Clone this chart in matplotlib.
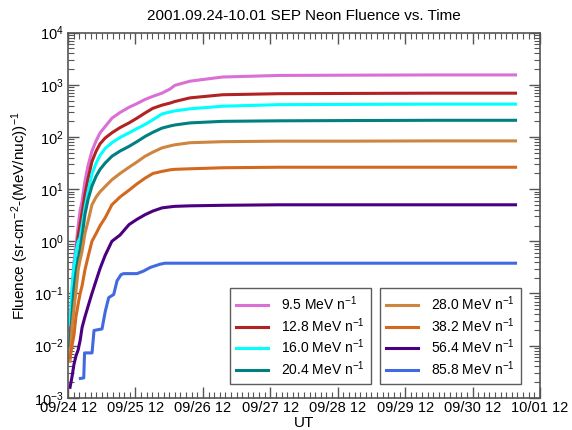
"""2001.09.24-10.01 SEP Neon fluence vs. time."""
import matplotlib
import numpy as np

matplotlib.use('Agg')
import matplotlib.pyplot as plt
from matplotlib.ticker import FixedLocator, LogLocator, NullFormatter

plt.rcParams['font.family'] = ['Liberation Sans', 'DejaVu Sans']
plt.rcParams['mathtext.fontset'] = 'custom'
plt.rcParams['mathtext.rm'] = 'Liberation Sans'
plt.rcParams['mathtext.it'] = 'Liberation Sans:italic'

# hours since 09/24 12:00 UT
hours = [0.7, 1.4, 2.1, 2.8, 3.6, 4.3, 5.0, 6.0, 7.1, 8.5, 10.0, 11.4, 13.2,
         15.6, 18.5, 21.7, 24.5, 27.4, 30.2, 33.4, 36.3, 38.0, 43.4, 55.0,
         75.0, 100.0, 130.0, 159.3]

# log10 fluence per energy channel, on the common time grid
log_95 = [-1.7, -1.0, -0.4, -0.1, 0.3, 0.6, 0.77, 1.15, 1.45, 1.73, 1.93, 2.08, 2.2,
          2.36, 2.47, 2.57, 2.64, 2.72, 2.78, 2.84, 2.92, 2.99, 3.07, 3.15,
          3.18, 3.185, 3.19, 3.19]
log_128 = [-2.0, -1.3, -0.7, -0.2, 0.1, 0.33, 0.55, 0.9, 1.2, 1.53, 1.73, 1.87, 1.98,
           2.08, 2.18, 2.27, 2.36, 2.46, 2.55, 2.61, 2.65, 2.68, 2.75, 2.81,
           2.83, 2.835, 2.84, 2.84]
log_160 = [-1.6, -0.9, -0.5, -0.2, 0.0, 0.07, 0.3, 0.64, 0.95, 1.29, 1.5, 1.65, 1.78,
           1.89, 1.99, 2.08, 2.16, 2.24, 2.33, 2.44, 2.48, 2.5, 2.54, 2.59,
           2.62, 2.625, 2.63, 2.63]
log_204 = [-2.0, -1.4, -0.9, -0.6, -0.35, -0.13, 0.1, 0.51, 0.8, 1.06, 1.25, 1.38, 1.5,
           1.63, 1.73, 1.82, 1.91, 2.01, 2.09, 2.17, 2.21, 2.23, 2.27, 2.30,
           2.31, 2.315, 2.32, 2.32]
log_280 = [-2.3, -1.66, -1.3, -0.96, -0.55, -0.35, -0.19, 0.15, 0.38, 0.70, 0.85, 0.95, 1.05,
           1.18, 1.3, 1.42, 1.52, 1.63, 1.71, 1.79, 1.83, 1.85, 1.89, 1.91,
           1.92, 1.92, 1.925, 1.925]
log_382 = [-2.23, -2.0, -1.8, -1.45, -1.2, -1.0, -0.85, -0.55, -0.3, 0.0, 0.15, 0.3, 0.45,
           0.70, 0.85, 0.98, 1.1, 1.21, 1.3, 1.34, 1.37, 1.38, 1.39, 1.41,
           1.42, 1.42, 1.42, 1.42]
log_564 = [-2.8, -2.6, -2.36, -2.2, -2.08, -1.9, -1.65, -1.45, -1.25, -1.0, -0.75, -0.52, -0.27,
           0.0, 0.12, 0.32, 0.42, 0.51, 0.58, 0.64, 0.66, 0.67, 0.68, 0.69,
           0.70, 0.70, 0.70, 0.70]

# 85.8 MeV/n channel is step-like, own time base
hours_858 = [4.37, 5.58, 5.87, 8.53, 9.24, 12.09, 13.26, 14.47, 16.25, 17.42,
             18.84, 19.8, 24.53, 26.9, 29.3, 32.7, 34.5, 159.3]
log_858 = [-2.63, -2.62, -2.14, -2.14, -1.71, -1.68, -1.34, -1.08, -1.02, -0.76,
           -0.64, -0.62, -0.62, -0.57, -0.50, -0.44, -0.42, -0.42]

labels = ['9.5 MeV n$^{-1}$', '12.8 MeV n$^{-1}$', '16.0 MeV n$^{-1}$', '20.4 MeV n$^{-1}$',
          '28.0 MeV n$^{-1}$', '38.2 MeV n$^{-1}$', '56.4 MeV n$^{-1}$', '85.8 MeV n$^{-1}$']
colors = ['#DA70D6', '#B22222', '#00FFFF', '#008080',
          '#CD853F', '#D2691E', '#4B0082', '#4169E1']
tick_labels = ['09/24 12', '09/25 12', '09/26 12', '09/27 12',
               '09/28 12', '09/29 12', '09/30 12', '10/01 12']

fig = plt.figure(figsize=(5.72, 4.30), dpi=100)
ax = fig.add_axes([0.119, 0.075, 0.825, 0.849])

series = [(hours, log_95), (hours, log_128), (hours, log_160), (hours, log_204),
          (hours, log_280), (hours, log_382), (hours, log_564), (hours_858, log_858)]
lines = []
for (t, lg), c in zip(series, colors):
    ln, = ax.plot(t, 10.0 ** np.array(lg), color=c, linewidth=2.2)
    lines.append(ln)

ax.set_yscale('log')
ax.set_ylim(1e-3, 1e4)
ax.set_xlim(0, 168)
ax.xaxis.set_major_locator(FixedLocator(np.arange(len(tick_labels)) * 24))
ax.set_xticklabels(tick_labels)
ax.xaxis.set_minor_locator(FixedLocator(np.arange(0, 169, 2)))
ax.yaxis.set_major_locator(LogLocator(base=10, numticks=10))
ax.yaxis.set_minor_locator(LogLocator(base=10, subs=np.arange(2, 10), numticks=10))
ax.yaxis.set_minor_formatter(NullFormatter())

ax.tick_params(which='both', direction='in', top=True, right=True,
               labelsize=10.5, color='#555555')
ax.tick_params(axis='x', pad=2)
ax.tick_params(axis='y', pad=3)
ax.tick_params(which='major', length=8, width=1.0)
ax.tick_params(which='minor', length=4, width=0.8)
for sp in ax.spines.values():
    sp.set_color('#555555')
    sp.set_linewidth(1.2)

ax.set_title('2001.09.24-10.01 SEP Neon Fluence vs. Time', fontsize=11, pad=9)
ax.set_xlabel('UT', fontsize=11, labelpad=1)
ax.set_ylabel('Fluence (sr-cm$^{-2}$-(MeV/nuc))$^{-1}$', fontsize=11, labelpad=2)

# two boxed legends side by side, four channels each
leg_kw = dict(loc='lower left', frameon=True, fancybox=False, fontsize=10,
              handlelength=2.3, handletextpad=0.9, labelspacing=0.22,
              borderpad=0.45, borderaxespad=0)
leg1 = ax.legend(lines[:4], labels[:4], bbox_to_anchor=(0.343, 0.037), **leg_kw)
leg1.get_frame().set_edgecolor('#333333')
leg1.get_frame().set_linewidth(1.0)
ax.add_artist(leg1)
leg2 = ax.legend(lines[4:], labels[4:], bbox_to_anchor=(0.661, 0.037), **leg_kw)
leg2.get_frame().set_edgecolor('#333333')
leg2.get_frame().set_linewidth(1.0)

fig.savefig('out.png', dpi=100)
plt.close(fig)
